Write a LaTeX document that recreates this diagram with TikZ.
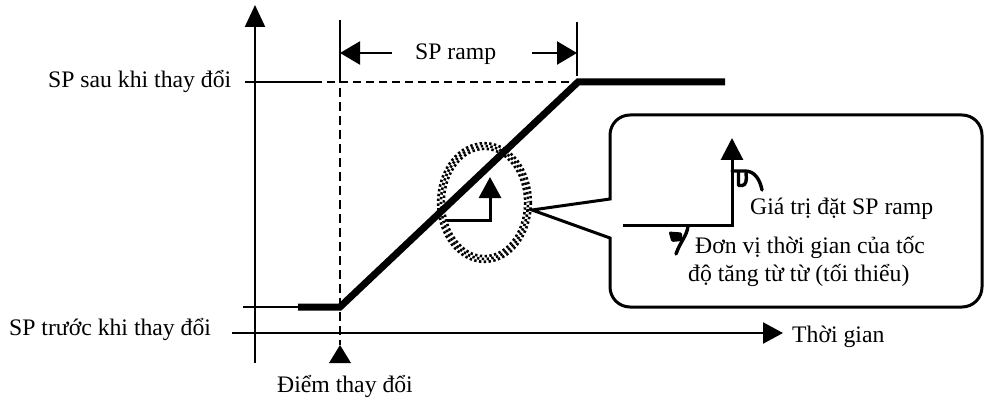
\documentclass[tikz,border=0pt]{standalone}
\usepackage{fontspec}
\setmainfont{Liberation Serif}
\usetikzlibrary{arrows.meta}
\begin{document}
\begin{tikzpicture}[x=1pt,y=-1pt,
  lbl/.style={inner sep=0pt,font=\fontsize{23.7}{28}\selectfont},
  axis/.style={line width=2.3pt},
  rampline/.style={line width=7pt,line join=miter},
  dsh/.style={line width=2.3pt,dash pattern=on 8pt off 5pt},
  stepline/.style={line width=3pt,line join=miter},
  curl/.style={line width=3.4pt,line cap=round,line join=round},
]
\useasboundingbox (0,0) rectangle (984,398);

% key points
\coordinate (yb) at (255,363);
\coordinate (yt) at (255,5);
\coordinate (xl) at (232,333);
\coordinate (xr) at (783,333);
\coordinate (hiL) at (245,82);
\coordinate (hiS) at (322,82);
\coordinate (hiD) at (327,82);
\coordinate (hiR) at (578,82);
\coordinate (loL) at (243,307);
\coordinate (loT) at (298,307);
\coordinate (chg) at (340,307);
\coordinate (top) at (578,82);
\coordinate (end) at (725,82);
\coordinate (barLt) at (340,20);
\coordinate (barLb) at (340,74);
\coordinate (barRt) at (577,22);
\coordinate (barRb) at (577,76);
\coordinate (mark) at (340,345);
\coordinate (ell) at (484.5,202.5);

% labels
\node[lbl,anchor=base west] (sau) at (48,88) {SP sau khi thay đổi};
\node[lbl,anchor=base west] (truoc) at (9,335) {SP trước khi thay đổi};
\node[lbl,anchor=base west] (ramp) at (415,60) {SP ramp};
\node[lbl,anchor=base west] (diem) at (277,392) {Điểm thay đổi};
\node[lbl,anchor=base west] (time) at (792,342) {Thời gian};
\node[lbl,anchor=base west] (gia) at (750,214) {Giá trị đặt SP ramp};
\node[lbl,anchor=base west] (don1) at (695,253) {Đơn vị thời gian của tốc};
\node[lbl,anchor=base west] (don2) at (688,281) {độ tăng từ từ (tối thiểu)};

% axes
\draw[axis,-{Triangle[length=22pt,width=20pt]}] (yb) -- (yt);
\draw[axis,-{Triangle[length=20pt,width=21pt]}] (xl) -- (xr);

% level lines
\draw[axis] (hiL) -- (hiS);
\draw[dsh] (hiD) -- (hiR);
\draw[axis] (loL) -- (loT);

% SP ramp dimension
\draw[axis] (barLt) -- (barLb);
\draw[axis] (barRt) -- (barRb);
\draw[dsh,dash pattern=on 9pt off 5pt] (barLb) -- (mark);
\draw[axis,-{Triangle[length=20pt,width=23pt]}] (392,53) -- (340,53);
\draw[axis,-{Triangle[length=20pt,width=23pt]}] (532,53) -- (577,53);

% change-point marker
\fill (mark) -- (329,363) -- (351,363) -- cycle;

% ramp
\draw[rampline] (loT) -- (chg) -- (top) -- (end);

% dotted ellipse
\foreach \d/\ph in {-2.8/0,0/2.4,2.8/0}
  \draw[line width=2.6pt,dash pattern=on 2.4pt off 2.4pt,dash phase=\ph pt]
    (ell) ellipse [x radius=43.5+\d, y radius=56.5+\d];

% small step in ellipse
\draw[stepline,-{Triangle[length=21pt,width=22pt]}] (447,220) -- (490,220) -- (490,177);

% callout
\draw[line width=3pt,line join=miter]
  (610,199) -- (532,210) -- (610,238)
  [rounded corners=20pt] -- (610,307) -- (982,307) -- (982,115) -- (610,115)
  [sharp corners] -- (610,199) -- cycle;

% step in callout
\draw[stepline,-{Triangle[length=22pt,width=22pt]}] (623,225) -- (732,225) -- (732,138);

% curls
\draw[curl] (732,171) -- (745,171) .. controls (755,171) and (760,180) .. (762,190);
\draw[curl] (738.5,172) -- (738.5,185.5) -- (742,185.5) .. controls (746,185.5) and (747,180) .. (746,173);
\draw[curl] (688,226) .. controls (687,236) and (680,242) .. (676,254);
\fill[rounded corners=1.5pt] (668.5,231.5) -- (682,232.5) -- (682,241) -- (671.5,242) -- cycle;
\end{tikzpicture}
\end{document}
